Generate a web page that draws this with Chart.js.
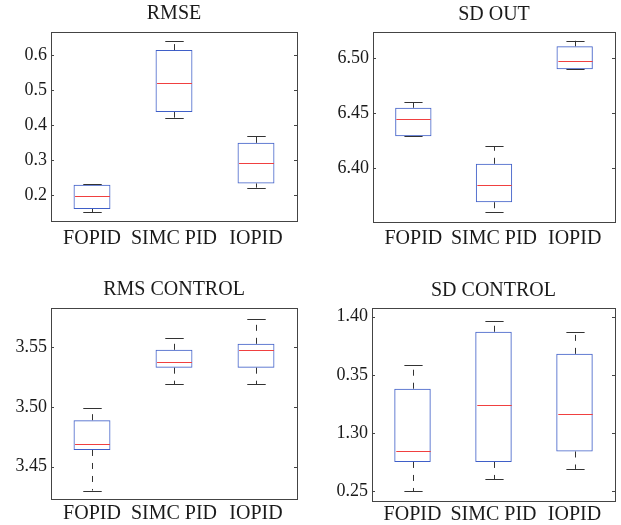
<!DOCTYPE html>
<html>
<head>
<meta charset="utf-8">
<script src="https://cdn.jsdelivr.net/npm/chart.js@4/dist/chart.umd.min.js"></script>
<style>
	html, body { margin: 0; padding: 0; background: #fff; }
	#page { position: relative; width: 621px; height: 525px; }
	canvas { position: absolute; }
</style>
</head>
<body>
<div id="page">
	<canvas id="rmse" width="310" height="260" style="left:0;top:0"></canvas>
	<canvas id="sdout" width="311" height="260" style="left:310px;top:0"></canvas>
	<canvas id="rmsctrl" width="310" height="265" style="left:0;top:260px"></canvas>
	<canvas id="sdctrl" width="311" height="265" style="left:310px;top:260px"></canvas>
</div>
<script>
const categories = ["FOPID", "SIMC PID", "IOPID"];

// RMSE
const rmseLow = [0.151, 0.421, 0.221];
const rmseQ1 = [0.160, 0.437, 0.233];
const rmseMedian = [0.197, 0.521, 0.290];
const rmseQ3 = [0.229, 0.614, 0.349];
const rmseHigh = [0.231, 0.641, 0.368];
const rmseTicks = [0.2, 0.3, 0.4, 0.5, 0.6];
const rmseTickLabels = ["0.2", "0.3", "0.4", "0.5", "0.6"];

// SD OUT
const sdOutLow = [6.429, 6.360, 6.490];
const sdOutQ1 = [6.429, 6.369, 6.490];
const sdOutMedian = [6.445, 6.385, 6.498];
const sdOutQ3 = [6.455, 6.404, 6.511];
const sdOutHigh = [6.460, 6.420, 6.516];
const sdOutTicks = [6.40, 6.45, 6.50];
const sdOutTickLabels = ["6.40", "6.45", "6.50"];

// RMS CONTROL
const rmsCtrlLow = [3.430, 3.519, 3.519];
const rmsCtrlQ1 = [3.464, 3.533, 3.533];
const rmsCtrlMedian = [3.469, 3.538, 3.548];
const rmsCtrlQ3 = [3.489, 3.548, 3.553];
const rmsCtrlHigh = [3.499, 3.558, 3.574];
const rmsCtrlTicks = [3.45, 3.50, 3.55];
const rmsCtrlTickLabels = ["3.45", "3.50", "3.55"];

// SD CONTROL (tick labels as printed in the figure)
const sdCtrlLow = [1.250, 1.260, 1.269];
const sdCtrlQ1 = [1.275, 1.275, 1.284];
const sdCtrlMedian = [1.284, 1.324, 1.316];
const sdCtrlQ3 = [1.338, 1.387, 1.368];
const sdCtrlHigh = [1.358, 1.396, 1.387];
const sdCtrlTicks = [1.25, 1.30, 1.35, 1.40];
const sdCtrlTickLabels = ["0.25", "1.30", "0.35", "1.40"];

const FONT = "'Liberation Serif', 'Times New Roman', serif";
const TEXT = "#1a1a1a";

// whiskers, caps and medians, drawn through the chart scales
const boxExtras = {
	id: "boxExtras",
	afterDatasetsDraw(chart) {
		const st = chart.options.plugins.boxExtras;
		const x = chart.scales.x;
		const y = chart.scales.y;
		const ctx = chart.ctx;
		const half = x.width / categories.length * 0.45 / 2;
		ctx.save();
		categories.forEach((c, i) => {
			const cx = Math.round(x.getPixelForValue(i)) + 0.5;
			const yLow = y.getPixelForValue(st.low[i]);
			const yQ1 = y.getPixelForValue(st.q1[i]);
			const yQ3 = y.getPixelForValue(st.q3[i]);
			const yHigh = y.getPixelForValue(st.high[i]);
			const yMed = Math.round(y.getPixelForValue(st.median[i])) + 0.5;

			ctx.strokeStyle = "#333";
			ctx.lineWidth = 1;
			ctx.setLineDash([6, 7]);
			ctx.beginPath();
			ctx.moveTo(cx, yQ3);
			ctx.lineTo(cx, yHigh);
			ctx.moveTo(cx, yQ1);
			ctx.lineTo(cx, yLow);
			ctx.stroke();

			ctx.setLineDash([]);
			ctx.beginPath();
			const ch = Math.round(yHigh) + 0.5;
			const cl = Math.round(yLow) + 0.5;
			ctx.moveTo(cx - half / 2, ch);
			ctx.lineTo(cx + half / 2, ch);
			ctx.moveTo(cx - half / 2, cl);
			ctx.lineTo(cx + half / 2, cl);
			ctx.stroke();

			ctx.strokeStyle = "#f04040";
			ctx.beginPath();
			ctx.moveTo(cx - half + 1, yMed);
			ctx.lineTo(cx + half - 1, yMed);
			ctx.stroke();
		});
		ctx.restore();
	},
	afterDraw(chart) {
		const a = chart.chartArea;
		const y = chart.scales.y;
		const ctx = chart.ctx;
		ctx.save();
		ctx.strokeStyle = "#444";
		ctx.lineWidth = 1;
		ctx.strokeRect(Math.round(a.left) + 0.5, Math.round(a.top) + 0.5,
			Math.round(a.right - a.left), Math.round(a.bottom - a.top));
		ctx.beginPath();
		y.ticks.forEach(t => {
			const py = Math.round(y.getPixelForValue(t.value)) + 0.5;
			ctx.moveTo(a.left, py);
			ctx.lineTo(a.left + 3, py);
			ctx.moveTo(a.right - 3, py);
			ctx.lineTo(a.right, py);
		});
		ctx.stroke();
		ctx.restore();
	},
};

function boxPanel(id, p) {
	new Chart(document.getElementById(id), {
		type: "bar",
		data: {
			labels: categories,
			datasets: [{
				data: p.q1.map((v, i) => [v, p.q3[i]]),
				backgroundColor: "rgba(255,255,255,0)",
				borderColor: "#3f5fc8",
				borderWidth: 1,
				borderSkipped: false,
				categoryPercentage: 1,
				barPercentage: 0.45,
			}],
		},
		options: {
			responsive: false,
			animation: false,
			layout: { padding: { left: 0, right: p.padRight, top: 0, bottom: 0 } },
			plugins: {
				legend: { display: false },
				tooltip: { enabled: false },
				title: {
					display: true,
					fullSize: false, // centre over the plot box, not the whole canvas
					text: p.title,
					color: TEXT,
					font: { family: FONT, size: 20, weight: "normal" },
					padding: p.titlePad,
				},
				boxExtras: { low: p.low, q1: p.q1, median: p.median, q3: p.q3, high: p.high },
			},
			scales: {
				x: {
					grid: { display: false, drawTicks: false },
					border: { display: false },
					ticks: {
						color: TEXT,
						font: { family: FONT, size: 20 },
						padding: p.xPad,
						maxRotation: 0,
						autoSkip: false,
					},
					afterFit: s => { s.height = p.xHeight; },
				},
				y: {
					min: p.min,
					max: p.max,
					grid: { display: false, drawTicks: false },
					border: { display: false },
					ticks: {
						color: TEXT,
						font: { family: FONT, size: 18 },
						padding: 4,
						callback: (v, i) => p.tickLabels[i],
					},
					afterBuildTicks: s => { s.ticks = p.ticks.map(v => ({ value: v })); },
					afterFit: s => { s.width = p.yWidth; },
				},
			},
		},
		plugins: [boxExtras],
	});
}

boxPanel("rmse", {
	title: "RMSE", low: rmseLow, q1: rmseQ1, median: rmseMedian, q3: rmseQ3, high: rmseHigh,
	ticks: rmseTicks, tickLabels: rmseTickLabels, min: 0.1257, max: 0.6657,
	yWidth: 51, xHeight: 39, padRight: 13, xPad: 6, titlePad: { top: 2, bottom: 6 },
});
boxPanel("sdout", {
	title: "SD OUT", low: sdOutLow, q1: sdOutQ1, median: sdOutMedian, q3: sdOutQ3, high: sdOutHigh,
	ticks: sdOutTicks, tickLabels: sdOutTickLabels, min: 6.351, max: 6.524,
	yWidth: 63, xHeight: 38, padRight: 6, xPad: 5, titlePad: { top: 3, bottom: 5 },
});
boxPanel("rmsctrl", {
	title: "RMS CONTROL", low: rmsCtrlLow, q1: rmsCtrlQ1, median: rmsCtrlMedian, q3: rmsCtrlQ3, high: rmsCtrlHigh,
	ticks: rmsCtrlTicks, tickLabels: rmsCtrlTickLabels, min: 3.4229, max: 3.5833,
	yWidth: 51, xHeight: 26, padRight: 13, xPad: 3, titlePad: { top: 18, bottom: 5.7 },
});
boxPanel("sdctrl", {
	title: "SD CONTROL", low: sdCtrlLow, q1: sdCtrlQ1, median: sdCtrlMedian, q3: sdCtrlQ3, high: sdCtrlHigh,
	ticks: sdCtrlTicks, tickLabels: sdCtrlTickLabels, min: 1.2414, max: 1.4072,
	yWidth: 62, xHeight: 24, padRight: 6, xPad: 2, titlePad: { top: 18.7, bottom: 5.6 },
});
</script>
</body>
</html>
